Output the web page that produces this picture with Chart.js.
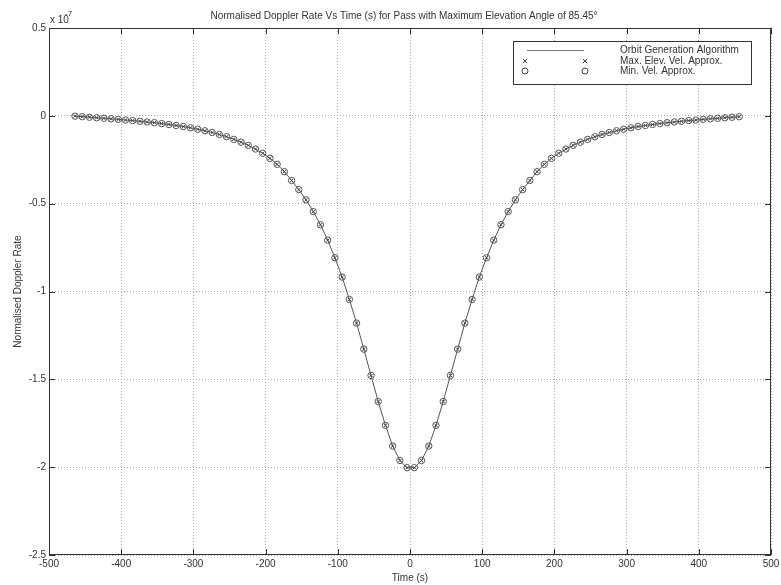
<!DOCTYPE html>
<html><head><meta charset="utf-8">
<script src="https://cdn.jsdelivr.net/npm/chart.js@4/dist/chart.umd.min.js"></script>
<style>html,body{margin:0;padding:0;background:#fff}#wrap{width:781px;height:585px}</style>
</head><body><div id="wrap"><canvas id="c" width="781" height="585"></canvas></div>
<script>
// Time (s)
const times = [-464,-454,-444,-434,-424,-414,-404,-394,-384,-374,-364,-354,-344,-334,-324,-314,-304,-294,-284,-274,-264,-254,-244,-234,-224,-214,-204,-194,-184,-174,-164,-154,-144,-134,-124,-114,-104,-94,-84,-74,-64,-54,-44,-34,-24,-14,-4,
 6,16,26,36,46,56,66,76,86,96,106,116,126,136,146,156,166,176,186,196,206,216,226,236,246,256,266,276,286,296,306,316,326,336,346,356,366,376,386,396,406,416,426,436,446,456];
// Normalised Doppler rate, in units of 1e-7
const orbitVals = [-0.002,-0.005,-0.008,-0.011,-0.014,-0.017,-0.020,-0.024,-0.027,-0.031,-0.035,-0.039,-0.044,-0.049,-0.055,-0.061,-0.068,-0.076,-0.085,-0.095,-0.106,-0.119,-0.134,-0.150,-0.168,-0.189,-0.213,-0.242,-0.276,-0.318,-0.368,-0.420,-0.478,-0.545,-0.620,-0.708,-0.808,-0.918,-1.045,-1.180,-1.328,-1.478,-1.626,-1.762,-1.880,-1.962,-2.003,
 -2.003,-1.962,-1.880,-1.762,-1.626,-1.478,-1.328,-1.180,-1.045,-0.918,-0.808,-0.708,-0.620,-0.545,-0.478,-0.420,-0.368,-0.318,-0.276,-0.242,-0.213,-0.189,-0.168,-0.150,-0.134,-0.119,-0.106,-0.095,-0.085,-0.076,-0.068,-0.061,-0.055,-0.049,-0.044,-0.039,-0.035,-0.031,-0.027,-0.024,-0.020,-0.017,-0.014,-0.011,-0.008,-0.005];
const maxElevVals = orbitVals.slice();
const minVelVals = orbitVals.slice();
const xTicks = [-500,-400,-300,-200,-100,0,100,200,300,400,500];
const yTicks = [0.5,0,-0.5,-1,-1.5,-2,-2.5];
const seriesNames = ['Orbit Generation Algorithm','Max. Elev. Vel. Approx.','Min. Vel. Approx.'];
const titleText = 'Normalised Doppler Rate Vs Time (s) for Pass with Maximum Elevation Angle of 85.45\u00B0';

const FONT = "'Liberation Sans', Arial, Helvetica, sans-serif";
Chart.defaults.font.family = FONT;
Chart.defaults.font.size = 10;
Chart.defaults.color = '#333';

const pts = v => times.map((t,i)=>({x:t,y:v[i]}));

const extras = {
  id:'extras',
  afterDraw(chart){
    const {ctx, chartArea:a, scales:{x,y}} = chart;
    ctx.save();
    // title
    ctx.fillStyle='#333'; ctx.font='10px '+FONT; ctx.textAlign='center'; ctx.textBaseline='middle';
    ctx.fillText(titleText, 404, 16);
    // box
    ctx.strokeStyle='#333'; ctx.lineWidth=1; ctx.setLineDash([]);
    ctx.strokeRect(Math.round(a.left)+0.5, Math.round(a.top)+0.5, Math.round(a.right-a.left)-1, Math.round(a.bottom-a.top)-1);
    // inward ticks
    const L=6;
    ctx.beginPath();
    xTicks.forEach(v=>{const px=Math.round(x.getPixelForValue(v))+0.5;
      ctx.moveTo(px,a.bottom); ctx.lineTo(px,a.bottom-L); ctx.moveTo(px,a.top); ctx.lineTo(px,a.top+L);});
    yTicks.forEach(v=>{const py=Math.round(y.getPixelForValue(v))+0.5;
      ctx.moveTo(a.left,py); ctx.lineTo(a.left+L,py); ctx.moveTo(a.right,py); ctx.lineTo(a.right-L,py);});
    ctx.stroke();
    // exponent
    ctx.textAlign='left'; ctx.textBaseline='middle'; ctx.font='10px '+FONT;
    ctx.fillText('x 10', 50, 20);
    ctx.font='8px '+FONT; ctx.fillText('-7', 65, 14);
    // legend
    const lx=513, ly=41, lw=238, lh=43;
    ctx.fillStyle='#fff'; ctx.fillRect(lx,ly,lw,lh);
    ctx.strokeStyle='#333'; ctx.strokeRect(lx+0.5,ly+0.5,lw,lh);
    const rows=[50,61,71];
    ctx.strokeStyle='#777'; ctx.beginPath(); ctx.moveTo(527,rows[0]+0.5); ctx.lineTo(584,rows[0]+0.5); ctx.stroke();
    ctx.strokeStyle='#444';
    [525,585].forEach(cx=>{
      const r=2.2, cy=rows[1];
      ctx.beginPath(); ctx.moveTo(cx-r,cy-r); ctx.lineTo(cx+r,cy+r); ctx.moveTo(cx-r,cy+r); ctx.lineTo(cx+r,cy-r); ctx.stroke();
      ctx.beginPath(); ctx.arc(cx,rows[2],3,0,Math.PI*2); ctx.stroke();
    });
    ctx.fillStyle='#333'; ctx.font='10px '+FONT; ctx.textAlign='left';
    chart.data.datasets.forEach((d,i)=>ctx.fillText(d.label, 620, rows[i]));
    ctx.restore();
  }
};

new Chart(document.getElementById('c'), {
  type:'scatter',
  data:{datasets:[
    {label:seriesNames[0], data:pts(orbitVals), showLine:true, borderColor:'#555', borderWidth:1, pointRadius:0, order:3},
    {label:seriesNames[1], data:pts(maxElevVals), showLine:false, pointStyle:'crossRot', pointRadius:2.3, borderColor:'#444', borderWidth:1, backgroundColor:'rgba(0,0,0,0)', order:2},
    {label:seriesNames[2], data:pts(minVelVals), showLine:false, pointStyle:'circle', pointRadius:3.2, borderColor:'#555', borderWidth:1, backgroundColor:'rgba(0,0,0,0)', order:1}
  ]},
  options:{
    responsive:false, animation:false, devicePixelRatio:1,
    layout:{padding:{left:0,right:10,top:28,bottom:0}},
    plugins:{legend:{display:false}, tooltip:{enabled:false}, title:{display:false}},
    scales:{
      x:{type:'linear', min:-500, max:500,
        afterBuildTicks(s){s.ticks = xTicks.map(v=>({value:v}));},
        ticks:{padding:3, color:'#333', maxRotation:0, autoSkip:false, callback:v=>String(v)},
        grid:{color:'#aaa', drawTicks:false, lineWidth:1},
        border:{display:false, dash:[1,2]},
        title:{display:true, text:'Time (s)', color:'#333', font:{size:10}, padding:{top:0,bottom:1}},
        afterFit(s){s.height=30; s.paddingLeft=0; s.paddingRight=0;}
      },
      y:{type:'linear', min:-2.5, max:0.5,
        afterBuildTicks(s){s.ticks = yTicks.map(v=>({value:v}));},
        ticks:{padding:3, color:'#333', autoSkip:false, callback:v=>String(v)},
        grid:{color:'#aaa', drawTicks:false, lineWidth:1},
        border:{display:false, dash:[1,2]},
        title:{display:true, text:'Normalised Doppler Rate', color:'#333', font:{size:10}, padding:{top:12,bottom:0}},
        afterFit(s){s.width=49;}
      }
    }
  },
  plugins:[extras]
});
</script></body></html>
